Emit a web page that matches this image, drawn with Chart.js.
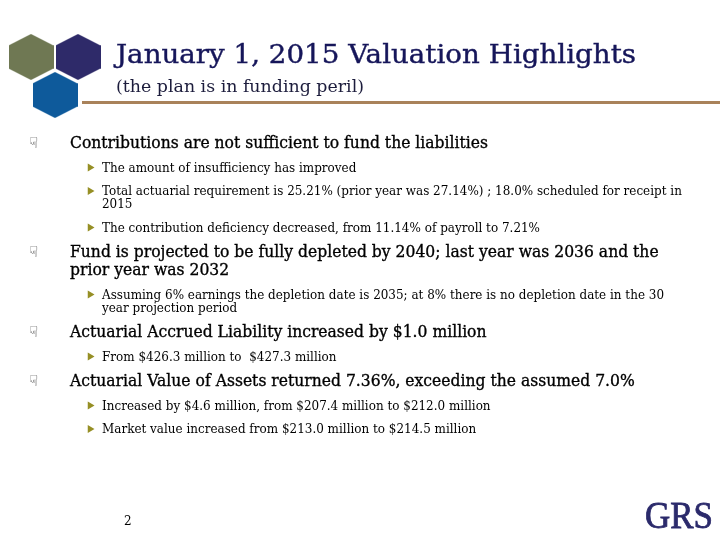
<!DOCTYPE html>
<html>
<head>
<meta charset="utf-8">
<script src="https://cdn.jsdelivr.net/npm/chart.js@4.4.1/dist/chart.umd.min.js"></script>
<style>
html, body { margin: 0; padding: 0; background: #fff; }
#wrap { width: 720px; height: 540px; position: relative; }
</style>
</head>
<body>
<div id="wrap"><canvas id="slide"></canvas></div>
<script>
// slide content
const title = 'January 1, 2015 Valuation Highlights'
const subtitle = '(the plan is in funding peril)'
const headings = [
    ['Contributions are not sufficient to fund the liabilities'],
    ['Fund is projected to be fully depleted by 2040; last year was 2036 and the', 'prior year was 2032'],
    ['Actuarial Accrued Liability increased by $1.0 million'],
    ['Actuarial Value of Assets returned 7.36%, exceeding the assumed 7.0%']
]
const subPoints = [
    [['The amount of insufficiency has improved'],
     ['Total actuarial requirement is 25.21% (prior year was 27.14%) ; 18.0% scheduled for receipt in', '2015'],
     ['The contribution deficiency decreased, from 11.14% of payroll to 7.21%']],
    [['Assuming 6% earnings the depletion date is 2035; at 8% there is no depletion date in the 30', 'year projection period']],
    [['From $426.3 million to  $427.3 million']],
    [['Increased by $4.6 million, from $207.4 million to $212.0 million'],
     ['Market value increased from $213.0 million to $214.5 million']]
]
const pageNumber = '2'
const logoText = 'GRS'
const hexColors = ['#6f7853', '#2e2a69', '#0e5a9b']

// layout (pixels)
const hexCenters = [[31, 57], [78, 57], [55, 95]]
const firstY = 148
const gapL1 = 25.5, gapL2 = 23.5, wrapL1 = 18, wrapL2 = 13

// walk through the outline and give every line a baseline
let lines = []
let y = firstY
headings.forEach((h, i) => {
    if (i > 0) y += gapL1
    h.forEach((t, k) => {
        if (k > 0) y += wrapL1
        lines.push({ text: t, level: 1, y: y, first: k === 0 })
    })
    subPoints[i].forEach(sp => {
        y += gapL2
        sp.forEach((t, k) => {
            if (k > 0) y += wrapL2
            lines.push({ text: t, level: 2, y: y, first: k === 0 })
        })
    })
})

const bulletPts = lines.filter(l => l.level === 2 && l.first).map(l => ({ x: 90, y: l.y - 4 }))
const hexPts = hexCenters.map(c => ({ x: c[0], y: c[1] }))

function hexImage(color, w, h) {
    const c = document.createElement('canvas')
    c.width = w
    c.height = h
    const g = c.getContext('2d')
    g.fillStyle = color
    g.beginPath()
    g.moveTo(w / 2, 0)
    g.lineTo(w, h / 4)
    g.lineTo(w, h * 3 / 4)
    g.lineTo(w / 2, h)
    g.lineTo(0, h * 3 / 4)
    g.lineTo(0, h / 4)
    g.closePath()
    g.fill()
    return c
}
const hexImgs = hexColors.map(col => hexImage(col, 45, 46))

// draw text stretched to a target width, a thin stroke makes it a bit heavier
function fitText(ctx, text, x, yy, font, target, weight) {
    ctx.font = font
    const s = target / ctx.measureText(text).width
    ctx.save()
    ctx.translate(x, yy)
    ctx.scale(s, 1)
    ctx.fillText(text, 0, 0)
    if (weight) {
        ctx.lineWidth = weight
        ctx.strokeStyle = ctx.fillStyle
        ctx.strokeText(text, 0, 0)
    }
    ctx.restore()
}

const slideText = {
    id: 'slideText',
    beforeDatasetsDraw(chart) {
        const ctx = chart.ctx
        ctx.save()
        ctx.fillStyle = '#fff'
        ctx.fillRect(0, 0, chart.width, chart.height)
        // rule under title
        ctx.fillStyle = '#a9825a'
        ctx.fillRect(82, 101, 638, 3)
        ctx.restore()
    },
    afterDatasetsDraw(chart) {
        const ctx = chart.ctx
        ctx.save()
        ctx.textBaseline = 'alphabetic'
        ctx.textAlign = 'left'

        ctx.fillStyle = '#16165a'
        fitText(ctx, title, 116, 63, '26px "DejaVu Serif"', 520, 0.4)
        ctx.fillStyle = '#1c1c3c'
        fitText(ctx, subtitle, 116, 92, '16.5px "DejaVu Serif"', 248)

        // one horizontal scale per level, taken from a reference line
        const f1 = '16.5px "DejaVu Serif"', f2 = '13px "DejaVu Serif"'
        ctx.font = f1
        const s1 = 418 / ctx.measureText(headings[0][0]).width
        ctx.font = f2
        const s2 = 438 / ctx.measureText(subPoints[0][2][0]).width

        lines.forEach(l => {
            ctx.save()
            ctx.fillStyle = '#000'
            if (l.level === 1) {
                ctx.font = f1
                ctx.translate(70, l.y)
                ctx.scale(s1, 1)
                ctx.fillText(l.text, 0, 0)
                ctx.lineWidth = 0.35
                ctx.strokeStyle = '#000'
                ctx.strokeText(l.text, 0, 0)
            } else {
                ctx.font = f2
                ctx.translate(102, l.y)
                ctx.scale(s2, 1)
                ctx.fillText(l.text, 0, 0)
            }
            ctx.restore()
            if (l.level === 1 && l.first) {
                ctx.font = '15px "DejaVu Sans"'
                ctx.fillStyle = '#333'
                ctx.fillText('\u261F', 29, l.y)
            }
        })

        ctx.font = '12px "DejaVu Serif"'
        ctx.fillStyle = '#000'
        ctx.fillText(pageNumber, 124, 525)

        ctx.fillStyle = '#2b2a6b'
        fitText(ctx, logoText, 645, 528, '37px "Liberation Serif"', 68, 0.8)
        ctx.restore()
    }
}

const ctx = document.getElementById('slide').getContext('2d')
const chart = new Chart(ctx, {
    type: 'scatter',
    data: {
        datasets: [{
                label: 'logo',
                data: hexPts,
                pointStyle: hexImgs,
                pointRadius: 22,
                showLine: false
            }, {
                label: 'bullets',
                data: bulletPts,
                pointStyle: 'triangle',
                rotation: 90,
                pointRadius: 4.5,
                backgroundColor: '#968f25',
                borderColor: '#968f25',
                borderWidth: 0,
                showLine: false
            }]
    },
    options: {
        responsive: true,
        maintainAspectRatio: false,
        animation: false,
        layout: { padding: 0, autoPadding: false },
        plugins: {
            legend: { display: false },
            tooltip: { enabled: false }
        },
        scales: {
            x: { type: 'linear', min: 0, max: 720, display: false },
            y: { type: 'linear', min: 0, max: 540, reverse: true, display: false }
        }
    },
    plugins: [slideText]
})
</script>
</body>
</html>
